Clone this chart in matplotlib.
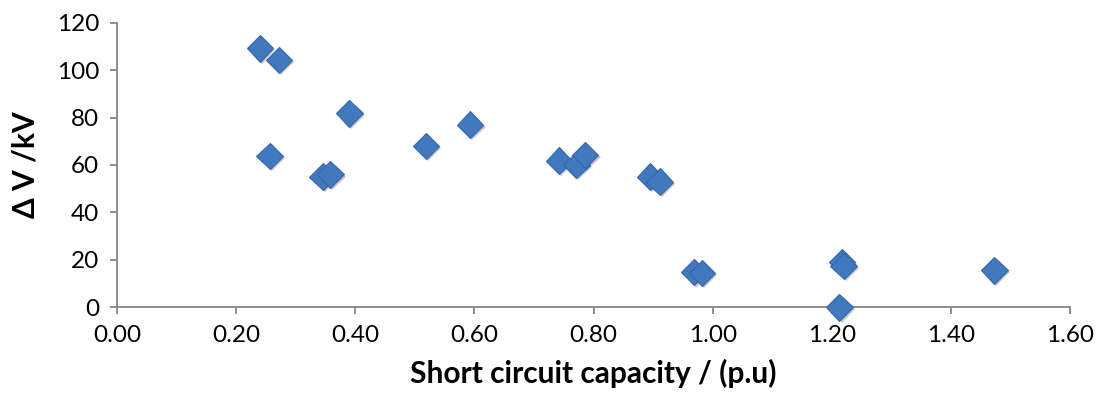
import matplotlib.pyplot as plt
import matplotlib.patheffects as pe

# short circuit capacity (p.u) vs voltage drop (kV)
scc = [0.240, 0.272, 0.256, 0.390, 0.345, 0.358, 0.519, 0.593,
       0.742, 0.771, 0.786, 0.895, 0.911, 0.969, 0.982, 1.213,
       1.217, 1.220, 1.473]
dv = [109.2, 104.3, 63.8, 81.8, 55.1, 56.0, 68.0, 77.0,
      61.8, 60.0, 64.2, 55.1, 53.0, 14.8, 14.5, 0.0,
      19.0, 17.5, 15.6]

xticks = [0.0, 0.2, 0.4, 0.6, 0.8, 1.0, 1.2, 1.4, 1.6]
yticks = [0, 20, 40, 60, 80, 100, 120]

plt.rcParams['font.family'] = ['Lato', 'DejaVu Sans']

fig = plt.figure(figsize=(10.99, 4.03), dpi=100)
ax = fig.add_axes([0.1065, 0.2375, 0.8671, 0.7062])

ax.plot(scc, dv, linestyle='none', marker='D', markersize=13.5,
        markerfacecolor='#4279BE', markeredgecolor='#3767A8', markeredgewidth=0.8,
        path_effects=[pe.SimplePatchShadow(offset=(1.5, -1.5), alpha=0.25), pe.Normal()],
        clip_on=False, zorder=3)

ax.set_xlim(0, 1.6)
ax.set_ylim(0, 120)
ax.set_xticks(xticks)
ax.set_xticklabels(['%.2f' % t for t in xticks])
ax.set_yticks(yticks)

for s in ['top', 'right']:
    ax.spines[s].set_visible(False)
for s in ['left', 'bottom']:
    ax.spines[s].set_color('#868686')
    ax.spines[s].set_linewidth(1.3)

ax.tick_params(axis='both', colors='#868686', length=5, width=1.3,
               labelsize=17.5, labelcolor='#000000', pad=8)

ax.set_xlabel('Short circuit capacity / (p.u)', fontsize=21.5, fontweight='bold', labelpad=9)
ax.set_ylabel('\u0394 V /kV', fontsize=21.5, fontweight='bold', labelpad=12)

fig.savefig('out.png', dpi=100)
